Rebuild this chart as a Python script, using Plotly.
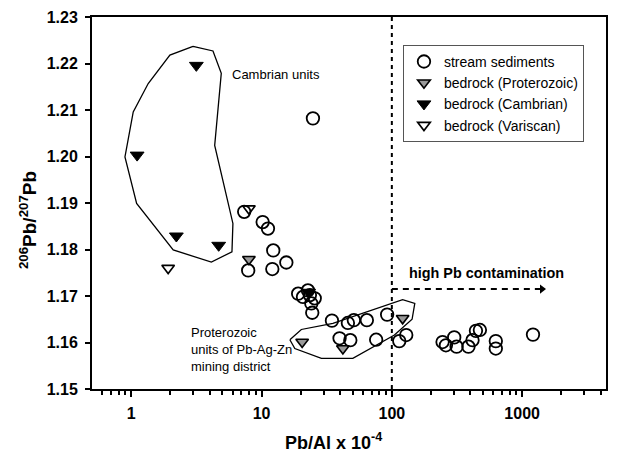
import plotly.graph_objects as go
import math

# ---------------- data ----------------
stream_x = [24.8, 7.36, 10.2, 11.2, 12.3, 15.5, 12.1, 7.9, 19.1, 22.7, 23.5, 20.8, 25.6, 24.1, 24.5,
            34.7, 46.0, 51.1, 64.3, 92.0, 39.7, 48.0, 75.8, 114, 129,
            245, 260, 301, 314, 387, 416, 442, 474, 628, 628, 1211]
stream_y = [1.2082, 1.1881, 1.1859, 1.1845, 1.1798, 1.1772, 1.1758, 1.1755, 1.1705, 1.1712, 1.1702, 1.1698, 1.1695, 1.1684, 1.1664,
            1.1647, 1.1642, 1.1648, 1.1648, 1.1660, 1.1609, 1.1605, 1.1606, 1.1603, 1.1616,
            1.1601, 1.1594, 1.1611, 1.1591, 1.1591, 1.1605, 1.1625, 1.1627, 1.1603, 1.1587, 1.1617]

prot_x = [8.0, 20.5, 42.1, 121]
prot_y = [1.1779, 1.1601, 1.1587, 1.1652]

camb_x = [3.16, 1.11, 2.22, 4.69, 23.0]
camb_y = [1.2196, 1.2003, 1.1829, 1.1809, 1.1708]

vari_x = [1.92, 8.0]
vari_y = [1.1760, 1.1888]

# outlines of the unit fields
camb_poly_x = [2.98, 4.24, 4.91, 4.37, 6.03, 5.93, 4.12, 2.10, 1.10, 0.895, 1.036, 1.35, 1.98, 2.98]
camb_poly_y = [1.2237, 1.2227, 1.2179, 1.2024, 1.1856, 1.1795, 1.1773, 1.1799, 1.1899, 1.1999, 1.2096, 1.2157, 1.2218, 1.2237]

prot_poly_x = [16.5, 20.2, 35.3, 121, 150, 143, 104.7, 50.2, 28.8, 18.0, 16.5]
prot_poly_y = [1.1606, 1.1628, 1.1641, 1.1692, 1.1684, 1.1650, 1.1616, 1.1566, 1.1566, 1.1587, 1.1606]

threshold_x = 100
arrow_x = [100, 1420]
arrow_y = [1.1715, 1.1715]

x_tickvals = [1, 10, 100, 1000]
x_ticktext = ["1", "10", "100", "1000"]
y_tickvals = [1.15, 1.16, 1.17, 1.18, 1.19, 1.20, 1.21, 1.22, 1.23]
y_ticktext = ["1.15", "1.16", "1.17", "1.18", "1.19", "1.20", "1.21", "1.22", "1.23"]

FONT = "Liberation Sans, Arial, sans-serif"

fig = go.Figure()

# fields
fig.add_trace(go.Scatter(x=camb_poly_x, y=camb_poly_y, mode="lines",
                         line=dict(color="black", width=1.3), showlegend=False, hoverinfo="skip"))
fig.add_trace(go.Scatter(x=prot_poly_x, y=prot_poly_y, mode="lines",
                         line=dict(color="black", width=1.3), showlegend=False, hoverinfo="skip"))

# threshold line and arrow
fig.add_trace(go.Scatter(x=[threshold_x, threshold_x], y=[1.15, 1.23], mode="lines",
                         line=dict(color="black", width=2, dash="4px,4px"), showlegend=False, hoverinfo="skip"))
fig.add_trace(go.Scatter(x=arrow_x, y=arrow_y, mode="lines",
                         line=dict(color="black", width=2, dash="6px,5px"), showlegend=False, hoverinfo="skip"))
fig.add_trace(go.Scatter(x=[arrow_x[-1]], y=[arrow_y[-1]], mode="markers",
                         marker=dict(symbol="triangle-right", size=8, color="black"),
                         showlegend=False, hoverinfo="skip"))

# data
fig.add_trace(go.Scatter(x=prot_x, y=prot_y, mode="markers", name="bedrock (Proterozoic)", legendrank=2,
                         marker=dict(symbol="triangle-down", size=11, color="#9a9a9a",
                                     line=dict(color="black", width=1.6))))
fig.add_trace(go.Scatter(x=camb_x, y=camb_y, mode="markers", name="bedrock (Cambrian)", legendrank=3,
                         marker=dict(symbol="triangle-down", size=12, color="black",
                                     line=dict(color="black", width=1))))
fig.add_trace(go.Scatter(x=vari_x, y=vari_y, mode="markers", name="bedrock (Variscan)", legendrank=4,
                         marker=dict(symbol="triangle-down", size=11, color="white",
                                     line=dict(color="black", width=1.6))))
fig.add_trace(go.Scatter(x=stream_x, y=stream_y, mode="markers", name="stream sediments", legendrank=1,
                         marker=dict(symbol="circle-open", size=12.5, color="black",
                                     line=dict(color="black", width=1.8))))

fig.update_layout(
    width=609, height=448,
    margin=dict(l=84, r=11, t=9, b=67, autoexpand=False),
    paper_bgcolor="white", plot_bgcolor="white",
    font=dict(family=FONT, color="black"),
    legend=dict(x=0.605, y=0.925, xanchor="left", yanchor="top",
                traceorder="normal",
                bordercolor="#555555", borderwidth=1, bgcolor="white",
                font=dict(size=14, family=FONT), itemwidth=30),
    showlegend=True,
)

fig.update_xaxes(type="log", range=[math.log10(0.5), math.log10(4400)],
                 tickvals=x_tickvals, ticktext=x_ticktext,
                 ticks="outside", ticklen=6, tickwidth=2, tickcolor="black",
                 minor=dict(ticks="outside", ticklen=4, tickwidth=1.5, tickcolor="black",
                            tickvals=[0.6, 0.7, 0.8, 0.9, 2, 3, 4, 5, 6, 7, 8, 9,
                                      20, 30, 40, 50, 60, 70, 80, 90,
                                      200, 300, 400, 500, 600, 700, 800, 900,
                                      2000, 3000, 4000], showgrid=False),
                 showline=True, linecolor="black", linewidth=2, mirror=True,
                 showgrid=False, zeroline=False,
                 tickfont=dict(size=16, family=FONT, weight="bold"), ticklabelstandoff=3)
fig.update_yaxes(range=[1.15, 1.23], tickvals=y_tickvals, ticktext=y_ticktext,
                 ticks="outside", ticklen=5, tickwidth=2, tickcolor="black",
                 showline=True, linecolor="black", linewidth=2, mirror=True,
                 showgrid=False, zeroline=False,
                 tickfont=dict(size=16, family=FONT, weight="bold"), ticklabelstandoff=4)

fig.add_annotation(text="Pb/Al x 10<sup>-4</sup>", xref="paper", yref="paper",
                   x=0.469, y=-0.14, xanchor="center", yanchor="middle", showarrow=False,
                   font=dict(size=18, family=FONT, weight="bold"))
fig.add_annotation(text="<sup>206</sup>Pb/<sup>207</sup>Pb", xref="paper", yref="paper",
                   x=-0.1245, y=0.454, xanchor="center", yanchor="middle", textangle=-90, showarrow=False,
                   font=dict(size=19, family=FONT, weight="bold"))
fig.add_annotation(text="Cambrian units", xref="x", yref="y",
                   x=math.log10(5.72), y=1.2177, xanchor="left", showarrow=False,
                   font=dict(size=13, family=FONT))
fig.add_annotation(text="Proterozoic<br>units of Pb-Ag-Zn<br>mining district", xref="x", yref="y",
                   x=math.log10(2.78), y=1.1586, xanchor="left", align="left", showarrow=False,
                   font=dict(size=13, family=FONT))
fig.add_annotation(text="high Pb contamination", xref="x", yref="y",
                   x=math.log10(130), y=1.175, xanchor="left", showarrow=False,
                   font=dict(size=14.4, family=FONT, weight="bold"))

fig.write_html("out.html")
